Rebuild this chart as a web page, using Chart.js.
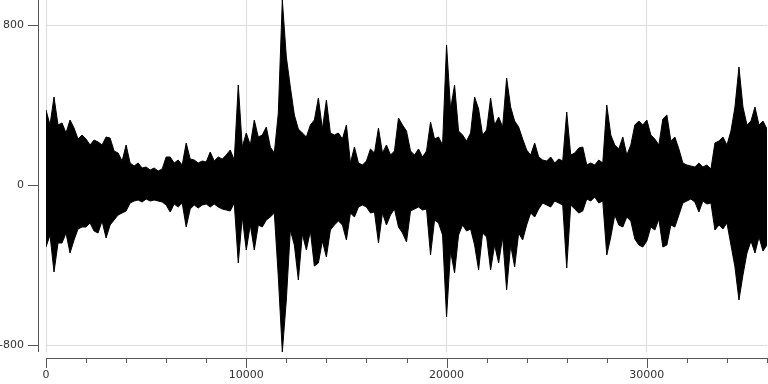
<!DOCTYPE html>
<html>
<head>
<meta charset="utf-8">
<script src="https://cdn.jsdelivr.net/npm/chart.js@4"></script>
<style>
  html, body { margin: 0; padding: 0; background: #fff; }
  #wrap { width: 768px; height: 384px; position: relative; }
  #eixosCanvas { position: absolute; left: 0; top: 0; pointer-events: none; }
</style>
</head>
<body>
<div id="wrap"><canvas id="chartSinal"></canvas><canvas id="eixosCanvas" width="768" height="384"></canvas></div>
<script>
// envelope of the signal, one column every 200 samples (upper peak / lower peak)
const xStep = 200;
const hi = [
  375, 300, 440, 300, 310, 260, 325, 285, 230, 250,
  230, 200, 225, 215, 200, 240, 235, 170, 160, 120,
  200, 110, 95, 110, 85, 90, 75, 85, 70, 80,
  140, 140, 110, 125, 100, 210, 130, 125, 110, 120,
  115, 165, 120, 140, 130, 150, 175, 125, 500, 190,
  260, 200, 325, 240, 250, 290, 190, 160, 360, 925,
  640, 490, 350, 280, 260, 240, 300, 325, 435, 280,
  425, 260, 250, 260, 230, 300, 110, 190, 110, 100,
  120, 180, 160, 285, 160, 200, 150, 170, 335, 300,
  270, 170, 150, 180, 140, 170, 315, 230, 240, 200,
  700, 380, 500, 270, 250, 220, 260, 440, 380, 250,
  275, 435, 300, 340, 290, 535, 390, 320, 290, 230,
  175, 150, 210, 140, 125, 120, 140, 110, 130, 120,
  365, 150, 160, 185, 190, 100, 110, 100, 125, 110,
  400, 250, 200, 180, 240, 150, 200, 300, 320, 300,
  325, 250, 230, 200, 330, 350, 220, 240, 180, 110,
  100, 95, 90, 110, 90, 100, 80, 210, 220, 240,
  200, 270, 390, 590, 390, 300, 320, 390, 300, 320,
  280
];
const lo = [
  -310, -250, -435, -290, -290, -240, -340, -275, -220, -210,
  -210, -190, -230, -240, -180, -265, -200, -175, -150, -140,
  -130, -90, -80, -75, -85, -70, -80, -75, -80, -85,
  -100, -135, -95, -110, -90, -210, -120, -100, -115, -100,
  -95, -110, -95, -110, -120, -125, -130, -90, -390, -160,
  -325, -200, -325, -200, -210, -175, -160, -140, -460, -835,
  -575, -225, -300, -475, -245, -325, -230, -405, -390, -280,
  -360, -225, -200, -180, -200, -275, -140, -160, -110, -100,
  -110, -140, -135, -290, -140, -200, -150, -120, -210, -240,
  -285, -130, -120, -110, -125, -120, -350, -175, -190, -250,
  -660, -330, -440, -250, -200, -230, -220, -300, -425, -240,
  -260, -425, -300, -390, -260, -525, -300, -410, -240, -275,
  -200, -140, -160, -120, -90, -100, -110, -80, -90, -100,
  -415, -100, -120, -140, -130, -70, -80, -60, -90, -80,
  -350, -260, -150, -200, -210, -160, -180, -270, -300, -310,
  -280, -210, -225, -170, -310, -300, -200, -210, -150, -90,
  -80, -70, -85, -135, -80, -95, -90, -225, -200, -220,
  -190, -300, -410, -575, -450, -340, -280, -340, -260, -330,
  -300
];
const xTicks = [0, 10000, 20000, 30000];
const yTicks = [-800, 0, 800];
const xMinorStep = 2000;
const xMax = 36000;

const topo = hi.map((v, i) => ({ x: i * xStep, y: v }));
const fundo = lo.map((v, i) => ({ x: i * xStep, y: v }));

// offset axes (line + tick marks) painted on an overlay, positioned by the chart's scales
const eixos = {
  id: 'eixos',
  beforeDraw(chart) {
    const c = document.getElementById('eixosCanvas').getContext('2d');
    const area = chart.chartArea;
    const sx = chart.scales.x;
    const sy = chart.scales.y;
    const ax = Math.round(area.left) - 8;
    const ay = Math.round(area.bottom) + 6;
    c.clearRect(0, 0, 768, 384);
    c.fillStyle = '#555';
    c.fillRect(ax, area.top, 1, area.bottom - area.top);
    yTicks.forEach(t => {
      const py = Math.round(sy.getPixelForValue(t));
      c.fillRect(ax - 10, py, 10, 1);
    });
    c.fillRect(area.left, ay, area.right - area.left, 1);
    for (let v = 0; v <= xMax; v += xMinorStep) {
      const px = Math.round(sx.getPixelForValue(v));
      const len = xTicks.indexOf(v) >= 0 ? 10 : 5;
      c.fillRect(px, ay, 1, len);
    }
  },
};

document.addEventListener('DOMContentLoaded', () => {
  const ctx = document.getElementById('chartSinal');
  new Chart(ctx, {
    type: 'line',
    data: {
      datasets: [
        { data: topo, borderColor: '#000', backgroundColor: '#000', borderWidth: 1, pointRadius: 0, fill: '+1', tension: 0 },
        { data: fundo, borderColor: '#000', borderWidth: 1, pointRadius: 0, fill: false, tension: 0 },
      ],
    },
    options: {
      responsive: true, maintainAspectRatio: false, animation: false,
      layout: { padding: { top: 0, right: 1, bottom: 0, left: 0 } },
      plugins: { legend: { display: false }, tooltip: { enabled: false } },
      scales: {
        x: {
          type: 'linear', min: 0, max: xMax,
          afterFit: (s) => { s.height = 32; s.paddingLeft = 0; s.paddingRight = 0; },
          afterBuildTicks: (s) => { s.ticks = xTicks.map(v => ({ value: v })); },
          grid: { color: '#dcdcdc', drawTicks: false },
          border: { display: false },
          ticks: { color: '#333', padding: 17, maxRotation: 0, font: { family: 'DejaVu Sans', size: 11 }, callback: (v) => String(v) },
        },
        y: {
          min: Math.min(...lo), max: Math.max(...hi),
          afterFit: (s) => { s.width = 46; s.paddingTop = 0; s.paddingBottom = 0; },
          afterBuildTicks: (s) => { s.ticks = yTicks.map(v => ({ value: v })); },
          grid: { color: '#dcdcdc', drawTicks: false },
          border: { display: false },
          ticks: { color: '#333', padding: 22, font: { family: 'DejaVu Sans', size: 11 }, callback: (v) => String(v) },
        },
      },
    },
    plugins: [eixos],
  });
});
</script>
</body>
</html>
